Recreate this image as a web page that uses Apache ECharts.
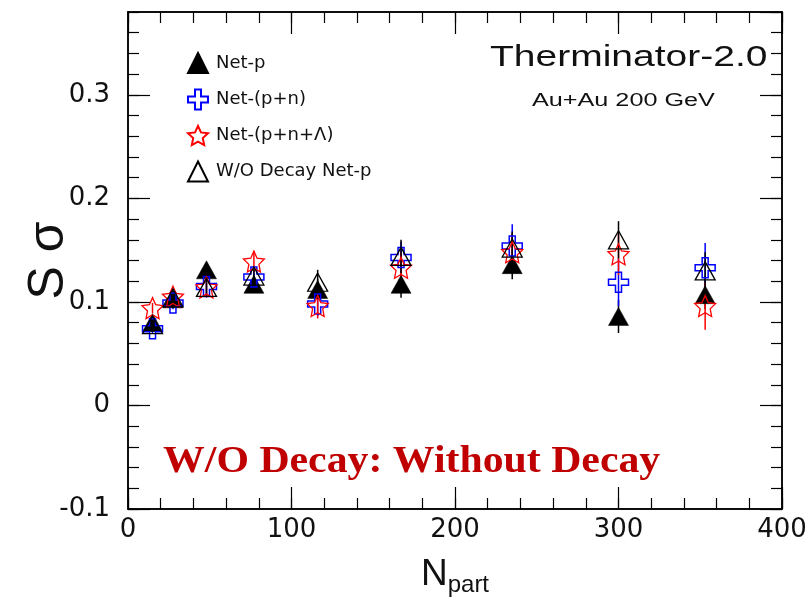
<!DOCTYPE html>
<html>
<head>
<meta charset="utf-8">
<script src="https://cdn.jsdelivr.net/npm/echarts@6/dist/echarts.min.js"></script>
<style>html,body{margin:0;padding:0;background:#fff;}#c{width:812px;height:597px;}</style>
</head>
<body>
<div id="c"></div>
<script>
// ---- data ----
const npart = [15, 27.5, 48, 77, 116, 167, 235, 300, 353];
const netP = [0.080, 0.103, 0.131, 0.117, 0.112, 0.117, 0.136, 0.086, 0.107];
const netPErr = [0.005, 0.006, 0.006, 0.008, 0.010, 0.013, 0.014, 0.016, 0.014];
const netPN = [0.074, 0.099, 0.115, 0.124, 0.098, 0.143, 0.154, 0.119, 0.133];
const netPNErr = [0.005, 0.006, 0.008, 0.010, 0.012, 0.015, 0.021, 0.023, 0.024];
const netPNL = [0.094, 0.105, 0.114, 0.139, 0.096, 0.133, 0.148, 0.146, 0.096];
const netPNLErr = [0.005, 0.006, 0.010, 0.010, 0.012, 0.015, 0.018, 0.020, 0.023];
const woDecay = [0.078, 0.104, 0.114, 0.125, 0.119, 0.144, 0.152, 0.160, 0.130];
const woDecayErr = [0.005, 0.006, 0.008, 0.009, 0.012, 0.016, 0.016, 0.018, 0.018];
const seriesNames = ['Net-p', 'Net-(p+n)', 'Net-(p+n+\u039b)', 'W/O Decay Net-p'];
const xTicks = {min: 0, max: 400, major: 100, minor: 20};
const yTicks = {min: -0.1, max: 0.38, major: 0.1, minor: 0.02};

const crossPath = 'path://M7,0 L13,0 L13,7 L20,7 L20,13 L13,13 L13,20 L7,20 L7,13 L0,13 L0,7 L7,7 Z';
const starPath = 'path://M10,0 L12.82,6.12 L19.51,6.91 L14.57,11.48 L15.88,18.09 L10,14.8 L4.12,18.09 L5.43,11.48 L0.49,6.91 L7.18,6.12 Z';

function pts(ys) { return npart.map((x, i) => [x, ys[i]]); }
function errPts(ys, es) { return npart.map((x, i) => [x, ys[i], es[i]]); }
function errSeries(ys, es, color) {
  return {
    type: 'custom', silent: true, z: 1,
    data: errPts(ys, es),
    encode: {x: 0, y: 1},
    renderItem: function (params, api) {
      const x = api.value(0), y = api.value(1), e = api.value(2);
      const a = api.coord([x, y - e]), b = api.coord([x, y + e]);
      return {type: 'line', shape: {x1: a[0], y1: a[1], x2: b[0], y2: b[1]},
              style: {stroke: color, lineWidth: 1.5}};
    }
  };
}

const axisLineStyle = {color: '#000', width: 1.5};
const lblFont = {fontSize: 26, fontFamily: 'DejaVu Sans', color: '#111'};

function xAx(pos, minor, labels) {
  return {
    type: 'value', position: pos, min: xTicks.min, max: xTicks.max,
    interval: minor ? xTicks.minor : xTicks.major,
    axisLine: {show: true, onZero: false, lineStyle: axisLineStyle},
    axisTick: {show: true, inside: true, length: minor ? 11 : 22, lineStyle: {color: '#000', width: 1.2}},
    axisLabel: labels ? Object.assign({show: true, margin: 8}, lblFont) : {show: false},
    splitLine: {show: false},
    name: labels ? '{n|N}{s|part}' : '',
    nameLocation: 'middle', nameGap: 44, nameMoveOverlap: false,
    nameTextStyle: {rich: {
      n: {fontSize: 37, fontFamily: 'Liberation Sans', color: '#111'},
      s: {fontSize: 24, fontFamily: 'Liberation Sans', color: '#111', padding: [20, 0, 0, 0]}
    }}
  };
}
function yAx(pos, minor, labels) {
  return {
    type: 'value', position: pos, min: yTicks.min, max: yTicks.max,
    interval: minor ? yTicks.minor : yTicks.major,
    axisLine: {show: true, onZero: false, lineStyle: axisLineStyle},
    axisTick: {show: true, inside: true, length: minor ? 11 : 22, lineStyle: {color: '#000', width: 1.2}},
    axisLabel: labels ? Object.assign({show: true, margin: 18, showMaxLabel: false,
      formatter: v => (Math.abs(v) < 1e-9 ? '0' : String(Math.round(v * 10) / 10))}, lblFont) : {show: false},
    splitLine: {show: false},
    name: labels ? 'S \u03c3' : '',
    nameLocation: 'middle', nameGap: 54, nameRotate: 90, nameMoveOverlap: false,
    nameTextStyle: {fontSize: 50, fontFamily: 'Liberation Sans', color: '#111'}
  };
}

const chart = echarts.init(document.getElementById('c'), null, {renderer: 'canvas'});
chart.setOption({
  animation: false,
  backgroundColor: '#fff',
  grid: {left: 128, right: 30, top: 12, bottom: 88, containLabel: false, outerBoundsMode: 'none'},
  xAxis: [xAx('bottom', false, true), xAx('bottom', true, false), xAx('top', false, false), xAx('top', true, false)],
  yAxis: [yAx('left', false, true), yAx('left', true, false), yAx('right', false, false), yAx('right', true, false)],
  legend: {
    data: seriesNames, orient: 'vertical', left: 182, top: 47,
    itemWidth: 20, itemHeight: 20, itemGap: 14.5,
    textStyle: {fontSize: 18, fontFamily: 'DejaVu Sans', color: '#111', padding: [0, 0, 0, 3]}
  },
  graphic: [
    {type: 'text', x: 490, y: 58, scaleX: 1.3, z: 100,
     style: {text: 'Therminator-2.0', fontSize: 30, fontFamily: 'Liberation Sans', fill: '#111', textVerticalAlign: 'middle'}},
    {type: 'text', x: 532, y: 101, scaleX: 1.4, z: 100,
     style: {text: 'Au+Au 200 GeV', fontSize: 18, fontFamily: 'Liberation Sans', fill: '#111', textVerticalAlign: 'middle'}},
    {type: 'text', x: 163, y: 462, scaleX: 1.1, z: 100,
     style: {text: 'W/O Decay: Without Decay', fontSize: 38, fontWeight: 'bold', fontFamily: 'Liberation Serif', fill: '#c00000', textVerticalAlign: 'middle'}}
  ],
  series: [
    errSeries(netP, netPErr, '#000'),
    errSeries(netPN, netPNErr, '#0000ff'),
    errSeries(netPNL, netPNLErr, '#ff0000'),
    errSeries(woDecay, woDecayErr, '#000'),
    {name: seriesNames[0], type: 'scatter', z: 3, data: pts(netP), symbol: 'triangle', symbolSize: [20, 18],
     itemStyle: {color: '#000', borderColor: '#000', borderWidth: 0.5, opacity: 1}},
    {name: seriesNames[1], type: 'scatter', z: 4, data: pts(netPN), symbol: crossPath, symbolSize: 20,
     itemStyle: {color: 'rgba(255,255,255,0)', borderColor: '#0000ff', borderWidth: 1.5, opacity: 1}},
    {name: seriesNames[2], type: 'scatter', z: 5, data: pts(netPNL), symbol: starPath, symbolSize: 21,
     itemStyle: {color: 'rgba(255,255,255,0)', borderColor: '#ff0000', borderWidth: 1.3, opacity: 1}},
    {name: seriesNames[3], type: 'scatter', z: 6, data: pts(woDecay), symbol: 'triangle', symbolSize: [20, 18],
     itemStyle: {color: 'rgba(255,255,255,0)', borderColor: '#000', borderWidth: 1.3, opacity: 1}}
  ]
});
</script>
</body>
</html>
